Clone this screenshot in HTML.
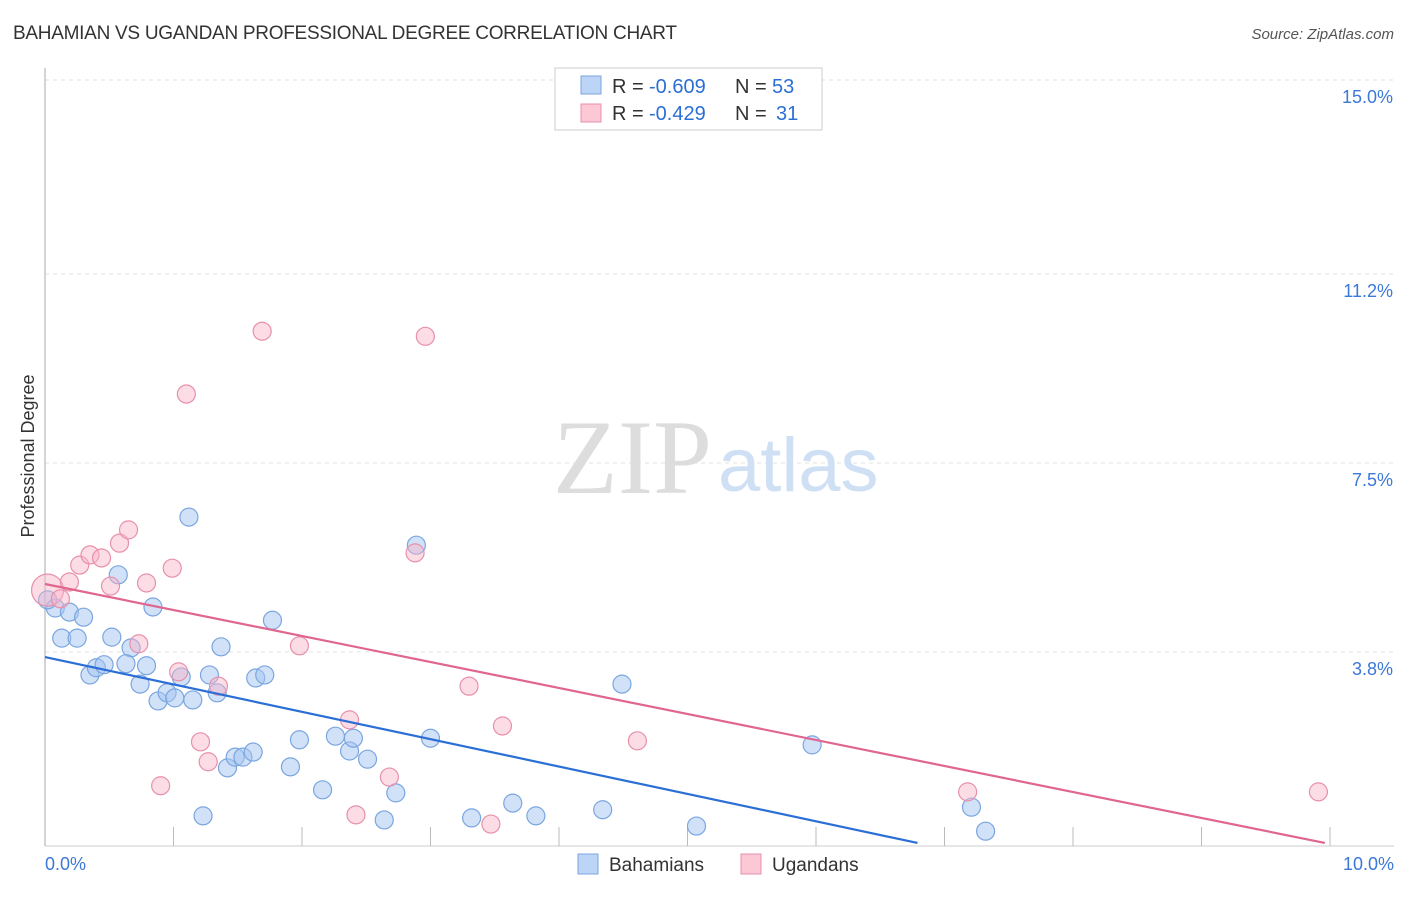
<!DOCTYPE html>
<html><head><meta charset="utf-8"><style>
body{margin:0;background:#fff;font-family:"Liberation Sans",sans-serif;}
</style></head><body>
<svg width="1406" height="892" xmlns="http://www.w3.org/2000/svg" id="chart">
<text x="13" y="39" font-size="19" fill="#333" textLength="664">BAHAMIAN VS UGANDAN PROFESSIONAL DEGREE CORRELATION CHART</text>
<text x="1394" y="39" font-size="15" fill="#555" font-style="italic" text-anchor="end">Source: ZipAtlas.com</text>
<text x="34" y="456" font-size="18" fill="#333" text-anchor="middle" transform="rotate(-90 34 456)">Professional Degree</text>
<g id="grid"></g>
<text x="553" y="493" font-size="106" fill="#ddd" font-family="Liberation Serif,serif">ZIP</text>
<text x="718" y="491" font-size="76" fill="#cfe0f5">atlas</text>
<g id="marks"></g>
<g>
<rect x="555" y="68" width="267" height="62" fill="#fff" stroke="#ccc"/>
<rect x="581" y="76" width="20" height="18" fill="#bcd4f5" stroke="#7aa6e0"/>
<rect x="581" y="104" width="20" height="18" fill="#fcc8d6" stroke="#e890aa"/>
<text x="612" y="93" font-size="20" fill="#333">R =</text>
<text x="649" y="93" font-size="20" fill="#2b6fd6">-0.609</text>
<text x="735" y="93" font-size="20" fill="#333">N =</text>
<text x="772" y="93" font-size="20" fill="#2b6fd6">53</text>
<text x="612" y="120" font-size="20" fill="#333">R =</text>
<text x="649" y="120" font-size="20" fill="#2b6fd6">-0.429</text>
<text x="735" y="120" font-size="20" fill="#333">N =</text>
<text x="776" y="120" font-size="20" fill="#2b6fd6">31</text>
</g>
<g>
<rect x="578" y="854" width="20" height="20" fill="#bcd4f5" stroke="#7aa6e0"/>
<text x="609" y="871" font-size="19" fill="#333">Bahamians</text>
<rect x="741" y="854" width="20" height="20" fill="#fcc8d6" stroke="#e890aa"/>
<text x="772" y="871" font-size="19" fill="#333">Ugandans</text>
</g>
</svg>
<script>
const yTicks=[3.8,7.5,11.2,15.0];
const yTickLabels=["3.8%","7.5%","11.2%","15.0%"];
const xTickLabels=["0.0%","10.0%"];
const bahX=[0.08,0.19,0.30,0.13,0.25,0.52,0.67,0.35,0.40,0.46,0.63,0.79,0.57,0.84,1.12,0.74,0.88,0.95,1.01,1.06,1.15,1.28,1.34,1.37,1.23,1.42,1.48,1.54,1.62,1.64,1.71,1.77,1.91,1.98,2.16,2.26,2.37,2.40,2.51,2.64,2.73,2.89,3.00,3.32,3.64,3.82,4.34,4.49,5.07,5.97,7.21,7.32,0.02];
const bahY=[4.66,4.58,4.48,4.07,4.07,4.09,3.88,3.35,3.49,3.55,3.57,3.53,5.31,4.68,6.44,3.17,2.84,3.00,2.90,3.31,2.86,3.35,3.00,3.90,0.59,1.53,1.74,1.74,1.84,3.29,3.35,4.42,1.55,2.08,1.10,2.15,1.86,2.11,1.70,0.51,1.04,5.89,2.11,0.55,0.84,0.59,0.71,3.17,0.39,1.98,0.76,0.29,4.82];
const ugX=[0.02,0.19,0.27,0.35,0.44,0.51,0.58,0.65,0.79,0.99,0.73,1.04,1.10,1.21,1.27,1.35,1.69,1.98,2.37,2.42,2.68,2.88,2.96,3.30,3.47,3.56,4.61,7.18,9.91,0.12,0.90];
const ugY=[5.01,5.17,5.50,5.70,5.64,5.09,5.93,6.19,5.15,5.44,3.96,3.41,8.85,2.04,1.65,3.13,10.08,3.92,2.47,0.61,1.35,5.74,9.98,3.13,0.43,2.35,2.06,1.06,1.06,4.84,1.18];
const ugR=[16,9,9,9,9,9,9,9,9,9,9,9,9,9,9,9,9,9,9,9,9,9,9,9,9,9,9,9,9,9,9];
const bahLine=[[0,3.70],[6.79,0.06]];
const ugLine=[[0,5.13],[9.96,0.06]];
const X=v=>45+v*128.5, Y=v=>846-v*51.07;
const NS="http://www.w3.org/2000/svg";
const grid=document.getElementById('grid'), marks=document.getElementById('marks');
function mk(tag,attrs,parent){const e=document.createElementNS(NS,tag);for(const k in attrs)e.setAttribute(k,attrs[k]);parent.appendChild(e);return e;}
yTicks.forEach((t,i)=>{
  const l=mk('line',{x1:45,x2:1394,y1:Y(t),y2:Y(t),stroke:'#e2e2e2','stroke-dasharray':'4,4'},grid);
  
  
  const tx=mk('text',{x:1393,y:Y(t)+23,'font-size':18,fill:'#3b78d8','text-anchor':'end'},grid);
  tx.textContent=yTickLabels[i];
  
  
});
const ax=mk('line',{x1:45,x2:45,y1:68,y2:846,stroke:'#aaa'},grid);


const bx=mk('line',{x1:45,x2:1394,y1:846,y2:846,stroke:'#ccc'},grid);


for(let i=1;i<=10;i++){
  const t=mk('line',{x1:X(i),x2:X(i),y1:827,y2:846,stroke:'#bbb'},grid);
  
  
}
[[0,'start',45],[10,'end',1394]].forEach((d,i)=>{
  const t=mk('text',{x:d[2],y:870,'font-size':18,fill:'#3b78d8','text-anchor':d[1]},grid);
  t.textContent=xTickLabels[i];
  
  
});
bahX.forEach((v,i)=>{
  const c=mk('circle',{cx:X(v),cy:Y(bahY[i]),r:9,fill:'rgba(164,196,240,0.5)',stroke:'#7aa6e0','stroke-width':1.2},marks);
  
  
});
ugX.forEach((v,i)=>{
  const c=mk('circle',{cx:X(v),cy:Y(ugY[i]),r:ugR[i],fill:'rgba(248,180,200,0.45)',stroke:'#e890aa','stroke-width':1.2},marks);
  
  
});
const l1=mk('line',{x1:X(bahLine[0][0]),y1:Y(bahLine[0][1]),x2:X(bahLine[1][0]),y2:Y(bahLine[1][1]),stroke:'#2b6fd6','stroke-width':2.2},marks);


const l2=mk('line',{x1:X(ugLine[0][0]),y1:Y(ugLine[0][1]),x2:X(ugLine[1][0]),y2:Y(ugLine[1][1]),stroke:'#e06690','stroke-width':2.2},marks);


</script>
</body></html>
